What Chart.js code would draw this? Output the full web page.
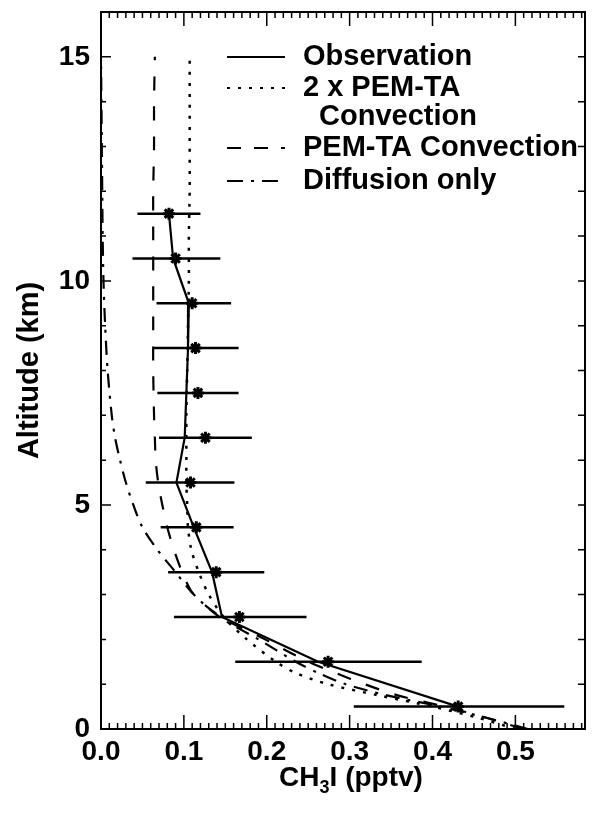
<!DOCTYPE html>
<html lang="en">
<head>
    <meta charset="UTF-8">
    <title>CH3I profile</title>
    <script src="https://cdn.jsdelivr.net/npm/chart.js"></script>
    <style>
        html, body { margin: 0; padding: 0; background: #fff; }
        #wrap { width: 594px; height: 813px; }
    </style>
</head>
<body>
    <div id="wrap"><canvas id="profileChart" width="594" height="813"></canvas></div>

    <script>
        // Observations: altitude bins (km), mean CH3I (pptv), line through the bins, error bar range
        const obsAlt  = [11.5, 10.5, 9.5, 8.5, 7.5, 6.5, 5.5, 4.5, 3.5, 2.5, 1.5, 0.5];
        const obsMean = [0.082, 0.090, 0.110, 0.114, 0.117, 0.126, 0.108, 0.115, 0.139, 0.167, 0.274, 0.431];
        const obsLine = [0.082, 0.087, 0.106, 0.105, 0.103, 0.101, 0.091, 0.112, 0.134, 0.146, 0.262, 0.431];
        const obsLow  = [0.044, 0.038, 0.067, 0.063, 0.068, 0.070, 0.054, 0.072, 0.081, 0.088, 0.162, 0.305];
        const obsHigh = [0.120, 0.144, 0.157, 0.166, 0.166, 0.182, 0.161, 0.160, 0.197, 0.248, 0.387, 0.559];

        // Model profiles
        const modelAlt  = [0, 0.25, 0.5, 0.75, 1, 1.25, 1.5, 2, 2.5, 3, 3.5, 4, 4.5, 5, 5.5, 6, 6.5, 7, 8, 9, 10, 11, 12, 13, 14, 15];
        const conv2x    = [0.500, 0.455, 0.400, 0.335, 0.274, 0.235, 0.211, 0.176, 0.148, 0.130, 0.118, 0.109, 0.105, 0.104, 0.103, 0.103, 0.103, 0.103, 0.104, 0.105, 0.106, 0.106, 0.107, 0.107, 0.107, 0.107];
        const conv      = [0.510, 0.465, 0.415, 0.358, 0.318, 0.283, 0.250, 0.198, 0.145, 0.112, 0.098, 0.088, 0.080, 0.074, 0.069, 0.066, 0.065, 0.064, 0.063, 0.063, 0.063, 0.063, 0.063, 0.064, 0.064, 0.065];
        const diffusion = [0.515, 0.465, 0.410, 0.345, 0.295, 0.262, 0.235, 0.190, 0.143, 0.112, 0.090, 0.068, 0.050, 0.039, 0.030, 0.023, 0.017, 0.013, 0.008, 0.005, 0.003, 0.002, 0.0015, 0.001, 0.0005, 0];

        const xTicks = [0, 0.1, 0.2, 0.3, 0.4, 0.5];
        const yTicks = [0, 5, 10, 15];

        const legendItems = [
            { label: ['Observation'], dash: [] },
            { label: ['2 x PEM-TA', '  Convection'], dash: [3, 8] },
            { label: ['PEM-TA Convection'], dash: [14, 13] },
            { label: ['Diffusion only'], dash: [16, 8, 3, 8] }
        ];

        const FONT = '"Liberation Sans", Arial, Helvetica, sans-serif';

        function profile(values) {
            return modelAlt.map((a, i) => ({ x: values[i], y: a }));
        }

        const errorBars = obsAlt.map((a, i) => ({
            data: [{ x: obsLow[i], y: a }, { x: obsHigh[i], y: a }],
            showLine: true,
            borderColor: '#000',
            borderWidth: 2.5,
            pointRadius: 0
        }));

        // axes box, inward ticks, legend and axis titles
        const frame = {
            id: 'frame',
            afterDatasetsDraw(chart) {
                const ctx = chart.ctx;
                const a = chart.chartArea;
                const xs = chart.scales.x, ys = chart.scales.y;
                ctx.save();
                ctx.strokeStyle = '#000';
                ctx.fillStyle = '#000';
                ctx.lineWidth = 2;
                ctx.setLineDash([]);
                ctx.strokeRect(a.left, a.top, a.right - a.left, a.bottom - a.top);

                ctx.lineWidth = 1.5;
                ctx.beginPath();
                for (let i = 0; i / 100 <= xs.max; i++) {
                    const px = xs.getPixelForValue(i / 100);
                    const len = i % 10 === 0 ? 14 : 6;
                    ctx.moveTo(px, a.bottom); ctx.lineTo(px, a.bottom - len);
                    ctx.moveTo(px, a.top); ctx.lineTo(px, a.top + len);
                }
                for (let i = 0; i <= ys.max; i++) {
                    const py = ys.getPixelForValue(i);
                    const len = i % 5 === 0 ? 10 : 5;
                    ctx.moveTo(a.left, py); ctx.lineTo(a.left + len, py);
                    ctx.moveTo(a.right, py); ctx.lineTo(a.right - 7, py);
                }
                ctx.stroke();

                // legend
                ctx.font = 'bold 29px ' + FONT;
                ctx.textBaseline = 'middle';
                ctx.textAlign = 'left';
                const rows = [57, 88, 148, 181];
                legendItems.forEach((item, k) => {
                    const y = rows[k];
                    ctx.lineWidth = 2.2;
                    ctx.setLineDash(item.dash);
                    ctx.beginPath();
                    ctx.moveTo(227, y); ctx.lineTo(285, y);
                    ctx.stroke();
                    ctx.setLineDash([]);
                    item.label.forEach((t, j) => ctx.fillText(t, 303, y + j * 29));
                });

                // y title
                ctx.save();
                ctx.translate(30, (a.top + a.bottom) / 2);
                ctx.rotate(-Math.PI / 2);
                ctx.textAlign = 'center';
                ctx.fillText('Altitude (km)', 0, 0);
                ctx.restore();

                // x title with subscript
                const big = 'bold 28px ' + FONT, small = 'bold 18px ' + FONT;
                ctx.textBaseline = 'alphabetic';
                ctx.font = big;
                const w1 = ctx.measureText('CH').width;
                const w3 = ctx.measureText('I (pptv)').width;
                ctx.font = small;
                const w2 = ctx.measureText('3').width;
                let x0 = 351 - (w1 + w2 + w3) / 2;
                const base = 786;
                ctx.font = big; ctx.fillText('CH', x0, base);
                ctx.font = small; ctx.fillText('3', x0 + w1, base + 7);
                ctx.font = big; ctx.fillText('I (pptv)', x0 + w1 + w2, base);
                ctx.restore();
            }
        };

        new Chart(document.getElementById('profileChart'), {
            type: 'scatter',
            data: {
                datasets: [
                    {
                        data: profile(conv2x), showLine: true, borderColor: '#000', borderWidth: 2.5,
                        borderDash: [3, 8], pointRadius: 0, tension: 0.3
                    },
                    {
                        data: profile(conv), showLine: true, borderColor: '#000', borderWidth: 2.2,
                        borderDash: [14, 16], pointRadius: 0, tension: 0.3
                    },
                    {
                        data: profile(diffusion), showLine: true, borderColor: '#000', borderWidth: 2.2,
                        borderDash: [14, 8, 3, 8], pointRadius: 0, tension: 0.3
                    },
                    ...errorBars,
                    {
                        data: obsAlt.map((a, i) => ({ x: obsLine[i], y: a })),
                        showLine: true, borderColor: '#000', borderWidth: 2.2, pointRadius: 0
                    },
                    {
                        data: obsAlt.map((a, i) => ({ x: obsMean[i], y: a })),
                        showLine: false, pointStyle: 'star', pointRadius: 6,
                        borderColor: '#000', backgroundColor: '#000', pointBorderWidth: 3
                    }
                ]
            },
            options: {
                responsive: false,
                animation: false,
                layout: { padding: { top: 12, right: 4, left: 0, bottom: 0 } },
                plugins: { legend: { display: false }, tooltip: { enabled: false } },
                scales: {
                    x: {
                        type: 'linear',
                        min: 0,
                        max: 0.584,
                        afterBuildTicks: s => { s.ticks = xTicks.map(v => ({ value: v })); },
                        afterFit: s => { s.height = 84; s.paddingLeft = 0; s.paddingRight = 0; },
                        grid: { display: false, drawTicks: false, tickLength: 0 },
                        border: { display: false },
                        ticks: {
                            padding: 6,
                            color: '#000',
                            font: { family: FONT, size: 28, weight: 'bold' },
                            maxRotation: 0,
                            callback: v => v.toFixed(1)
                        }
                    },
                    y: {
                        type: 'linear',
                        min: 0,
                        max: 16,
                        afterBuildTicks: s => { s.ticks = yTicks.map(v => ({ value: v })); },
                        afterFit: s => { s.width = 101; s.paddingTop = 0; s.paddingBottom = 0; },
                        grid: { display: false, drawTicks: false, tickLength: 0 },
                        border: { display: false },
                        ticks: {
                            padding: 11,
                            color: '#000',
                            font: { family: FONT, size: 28, weight: 'bold' },
                            callback: v => String(v)
                        }
                    }
                }
            },
            plugins: [frame]
        });
    </script>
</body>
</html>
